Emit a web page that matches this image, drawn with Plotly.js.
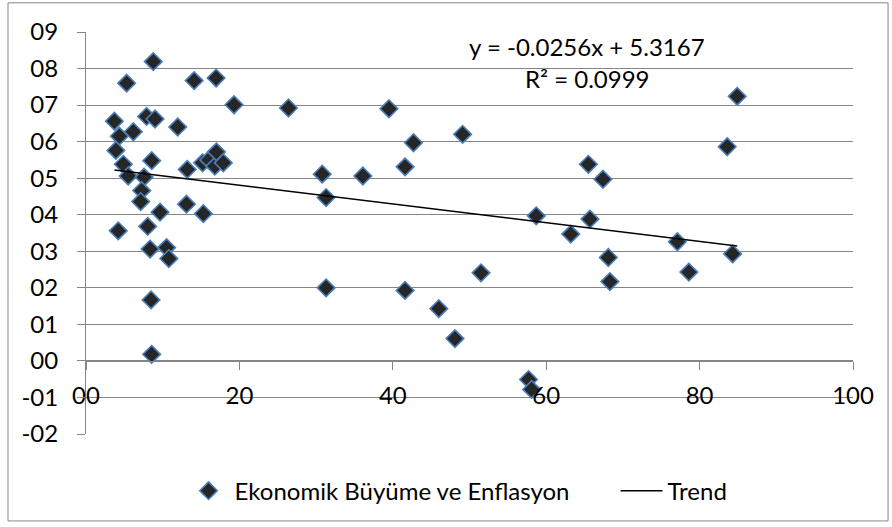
<!DOCTYPE html>
<html>
<head>
<meta charset="utf-8">
<script src="https://cdn.plot.ly/plotly-3.0.1.min.js"></script>
<style>html,body{margin:0;padding:0;background:#fff;}#chart{width:892px;height:527px;}</style>
</head>
<body>
<div id="chart"></div>
<script>
// Data
const seriesName = "Ekonomik Büyüme ve Enflasyon";
const trendName = "Trend";
const xValues = [
  8.77, 5.3, 14.1, 16.96, 19.3, 3.7, 7.9, 9.0, 6.17, 4.35, 11.96, 3.9, 4.87, 8.57, 5.5, 7.57,
  13.2, 15.2, 16.0, 16.8, 17.0, 17.9, 7.26, 7.13, 9.65, 13.1, 15.3, 4.2, 8.04, 8.35, 10.5, 10.8,
  8.48, 8.56,
  26.4, 39.5, 42.7, 49.1, 30.8, 36.1, 41.6, 31.3, 31.3, 41.6, 51.5, 46.0, 48.1, 57.7, 58.1,
  58.7, 63.2, 65.5, 67.4, 65.7, 68.1, 68.3, 77.1, 78.6, 84.9, 83.6, 84.3
];
const yValues = [
  8.19, 7.60, 7.67, 7.74, 7.01, 6.56, 6.69, 6.62, 6.27, 6.15, 6.40, 5.76, 5.38, 5.48, 5.06, 5.03,
  5.24, 5.42, 5.50, 5.33, 5.72, 5.42, 4.66, 4.36, 4.07, 4.29, 4.03, 3.56, 3.68, 3.06, 3.10, 2.80,
  1.67, 0.18,
  6.92, 6.90, 5.97, 6.20, 5.11, 5.06, 5.31, 4.47, 2.00, 1.93, 2.41, 1.43, 0.61, -0.51, -0.78,
  3.97, 3.47, 5.38, 4.97, 3.88, 2.83, 2.17, 3.26, 2.43, 7.24, 5.86, 2.93
];
const trendSlope = [-0.0256];
const trendIntercept = [5.3167];
const equationLabels = ["y = -0.0256x + 5.3167", "R² = 0.0999"];
const xTickVals = [0, 20, 40, 60, 80, 100];
const xTickText = ["00", "20", "40", "60", "80", "100"];
const yTickVals = [-2, -1, 0, 1, 2, 3, 4, 5, 6, 7, 8, 9];
const yTickText = ["-02", "-01", "00", "01", "02", "03", "04", "05", "06", "07", "08", "09"];

const xMin = Math.min(...xValues), xMax = Math.max(...xValues);
const trendX = [xMin, xMax];
const trendY = trendX.map(v => trendSlope[0] * v + trendIntercept[0]);

const FONT = "Lato, 'Noto Sans', sans-serif";
const GRID = "#868686";

const traces = [
  {
    type: "scatter", mode: "markers", name: seriesName,
    x: xValues, y: yValues, legendwidth: 376,
    marker: {symbol: "diamond", size: 13.5, color: "#262626", line: {color: "#4a7ebb", width: 1.6}}
  },
  {
    type: "scatter", mode: "lines", name: trendName,
    x: trendX, y: trendY,
    line: {color: "#000000", width: 1.5}
  }
];

const layout = {
  width: 892, height: 527,
  margin: {l: 86, r: 39, t: 32, b: 93},
  paper_bgcolor: "#ffffff", plot_bgcolor: "#ffffff",
  font: {family: FONT, size: 24, color: "#000"},
  showlegend: true,
  legend: {orientation: "h", x: 0.4844, xanchor: "center", y: -0.142, yanchor: "middle",
           itemwidth: 42,
           font: {family: FONT, size: 24, color: "#000"}, bgcolor: "rgba(0,0,0,0)"},
  xaxis: {
    range: [0, 100], tickmode: "array", tickvals: xTickVals, ticktext: xTickText,
    showgrid: false, zeroline: false, showline: true, linecolor: GRID, linewidth: 1,
    ticks: "outside", ticklen: 8, tickcolor: GRID, tickwidth: 1,
    anchor: "free", position: 2 / 11, ticklabelstandoff: 5, automargin: false,
    tickfont: {family: FONT, size: 24, color: "#000"}
  },
  yaxis: {
    range: [-2, 9], tickmode: "array", tickvals: yTickVals, ticktext: yTickText,
    showgrid: true, gridcolor: GRID, gridwidth: 1, zeroline: false,
    showline: true, linecolor: GRID, linewidth: 1,
    ticks: "outside", ticklen: 8, tickcolor: GRID, tickwidth: 1, automargin: false,
    ticklabelstandoff: 14,
    tickfont: {family: FONT, size: 24, color: "#000"}
  },
  annotations: [
    {xref: "paper", yref: "paper", x: 0.6532, y: 0.964, xanchor: "center", yanchor: "middle",
     text: equationLabels[0], showarrow: false, font: {family: FONT, size: 24, color: "#000"}},
    {xref: "paper", yref: "paper", x: 0.6532, y: 0.884, xanchor: "center", yanchor: "middle",
     text: equationLabels[1], showarrow: false, font: {family: FONT, size: 24, color: "#000"}}
  ],
  shapes: [
    {type: "rect", xref: "paper", yref: "paper", x0: -0.1017, x1: 1.0457, y0: -0.2163, y1: 1.0726,
     line: {color: GRID, width: 1}, fillcolor: "rgba(0,0,0,0)", layer: "below"}
  ]
};

Plotly.newPlot("chart", traces, layout, {staticPlot: true, displayModeBar: false});
</script>
</body>
</html>
